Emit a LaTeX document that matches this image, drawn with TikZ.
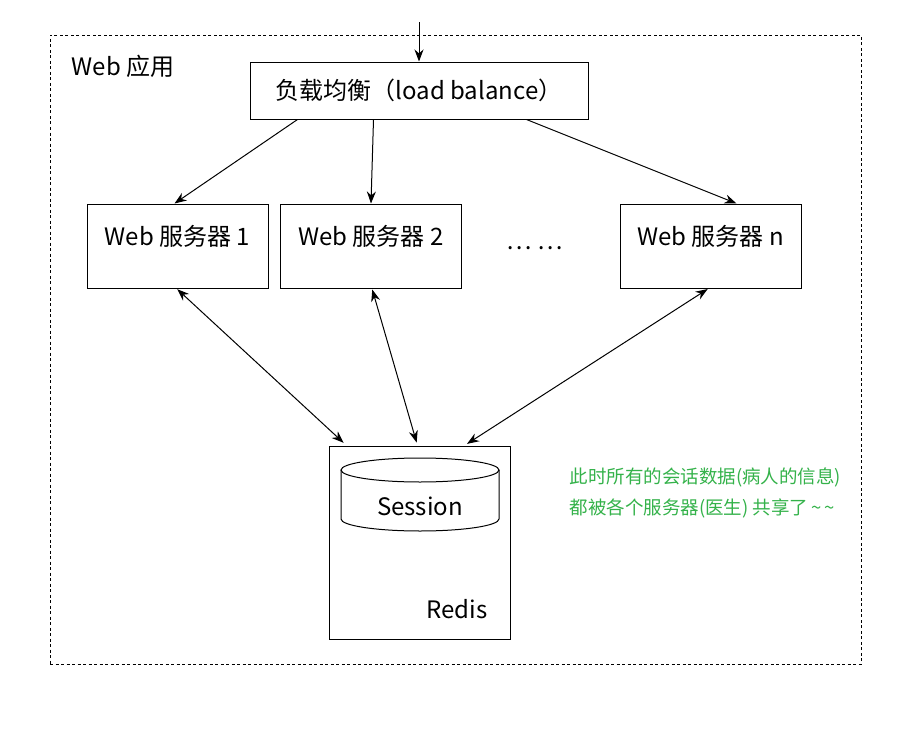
\documentclass[tikz,border=0pt]{standalone}
\usepackage{fontspec}
\setmainfont{Noto Sans CJK SC}
\usetikzlibrary{arrows.meta}
\definecolor{notegreen}{RGB}{52,178,74}
\begin{document}
\begin{tikzpicture}[x=1pt,y=-1pt,
    box/.style={draw,line width=1pt,inner sep=0pt},
    server/.style={box,minimum width=181pt,minimum height=84pt},
    lbl/.style={font=\fontsize{24}{28}\selectfont},
    note/.style={anchor=west,text=notegreen,font=\fontsize{18.5}{22}\selectfont},
    arr/.style={-{Stealth[length=12pt,width=9pt]},line width=1pt},
    biarr/.style={{Stealth[length=12pt,width=9pt]}-{Stealth[length=12pt,width=9pt]},line width=1pt}]
    \useasboundingbox (0,0) rectangle (911,736);

    \node[draw,dash pattern=on 3pt off 2.5pt,minimum width=811pt,minimum height=629pt] (web) at (455.5,349.5) {};
    \node[lbl] (webl) at (123,66) {Web 应用};

    \coordinate (in) at (419,22);
    \node[box,lbl,minimum width=338pt,minimum height=57pt] (lb) at (419,90.5) {负载均衡（load balance）};

    \node[server] (s1) at (177.5,246) {};
    \node[server] (s2) at (371,246) {};
    \node[server] (sn) at (710.5,246) {};
    \node[lbl] (t1) at (177.5,236) {Web 服务器 1};
    \node[lbl] (t2) at (371,236) {Web 服务器 2};
    \node[lbl] (tn) at (710.5,236) {Web 服务器 n};
    \node[lbl] (dots) at (535,248) {… …};

    \node[box,minimum width=181pt,minimum height=193pt] (redis) at (419.5,542.5) {};
    \draw[line width=1pt] (341,470) -- (341,519) arc[start angle=180,end angle=0,x radius=79,y radius=12] -- (499,470);
    \draw[line width=1pt] (420,470) ellipse [x radius=79,y radius=12];
    \node[lbl] (sess) at (420,506) {Session};
    \node[lbl] (redisl) at (457,609) {Redis};

    \node[note] (n1) at (566,477) {此时所有的会话数据(病人的信息)};
    \node[note] (n2) at (566,508) {都被各个服务器(医生) 共享了\,\textasciitilde\,\textasciitilde};

    \draw[arr] (in) -- (lb.north);
    \draw[arr] ([xshift=48pt]lb.south west) -- ([xshift=88pt]s1.north west);
    \draw[arr] ([xshift=124pt]lb.south west) -- ([xshift=91pt]s2.north west);
    \draw[arr] ([xshift=277pt]lb.south west) -- ([xshift=117pt]sn.north west);

    \draw[biarr,shorten <=1pt,shorten >=4pt] ([xshift=90pt]s1.south west) -- ([xshift=18pt]redis.north west);
    \draw[biarr,shorten <=1pt,shorten >=3pt] ([xshift=92pt]s2.south west) -- ([xshift=89pt]redis.north west);
    \draw[biarr,shorten <=1pt,shorten >=3pt] ([xshift=89pt]sn.south west) -- ([xshift=136pt]redis.north west);
\end{tikzpicture}
\end{document}
